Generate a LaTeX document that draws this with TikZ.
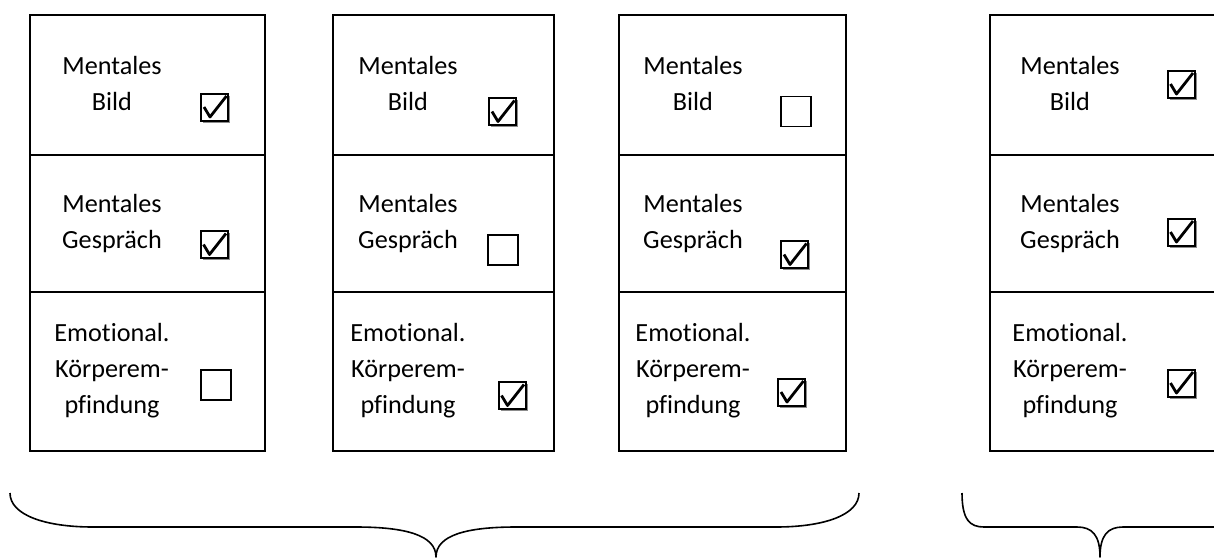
\documentclass[tikz,border=0pt]{standalone}
\usepackage{fontspec}
\setmainfont{Carlito}[Ligatures=NoCommon]
\usetikzlibrary{shadows}

\begin{document}
\begin{tikzpicture}[x=0.5pt,y=-0.5pt,
        frame/.style={line width=1pt},
        cell/.style={align=center,anchor=base,inner sep=0pt,font=\fontsize{13.1}{18}\selectfont},
        emptybox/.style={draw,line width=0.85pt,minimum size=15pt,inner sep=0pt},
        tickbox/.style={draw,line width=1pt,minimum size=13.5pt,inner sep=0pt,fill=white,
            drop shadow={shadow xshift=1.2pt,shadow yshift=-1.2pt,fill=black!45,opacity=1},
            path picture={\draw[shift={(path picture bounding box.center)},line width=1.4pt,line join=round]
                (-10.5,0) -- (-4.5,10) -- (12,-11);}},
        brace/.style={line width=0.8pt,line join=round}]

    \useasboundingbox (0,0) rectangle (1214,557);
    \clip (0,0) rectangle (1214,557);

    % columns
    \foreach \l/\r in {30/265, 333/554, 619/846, 990/1230} {
        \draw[frame] (\l,15) rectangle (\r,451);
        \draw[frame] (\l,155) -- (\r,155);
        \draw[frame] (\l,292) -- (\r,292);
    }

    % column 1
    \node[cell] (bild1) at (112,110) {Mentales\\Bild};
    \node[cell] (gespr1) at (112,248) {Mentales\\Gespräch};
    \node[cell] (koerp1) at (112,413) {Emotional.\\Körperem-\\pfindung};
    \node[tickbox] (box11) at (214.5,107) {};
    \node[tickbox] (box12) at (214,244.5) {};
    \node[emptybox] (box13) at (216,385) {};

    % column 2
    \node[cell] (bild2) at (408,110) {Mentales\\Bild};
    \node[cell] (gespr2) at (408,248) {Mentales\\Gespräch};
    \node[cell] (koerp2) at (408,413) {Emotional.\\Körperem-\\pfindung};
    \node[tickbox] (box21) at (502.5,111.5) {};
    \node[emptybox] (box22) at (503,250) {};
    \node[tickbox] (box23) at (512,395.5) {};

    % column 3
    \node[cell] (bild3) at (693,110) {Mentales\\Bild};
    \node[cell] (gespr3) at (693,248) {Mentales\\Gespräch};
    \node[cell] (koerp3) at (693,413) {Emotional.\\Körperem-\\pfindung};
    \node[emptybox] (box31) at (796,111.5) {};
    \node[tickbox] (box32) at (794.5,254.5) {};
    \node[tickbox] (box33) at (791.5,392) {};

    % column 4
    \node[cell] (bild4) at (1070,110) {Mentales\\Bild};
    \node[cell] (gespr4) at (1070,248) {Mentales\\Gespräch};
    \node[cell] (koerp4) at (1070,413) {Emotional.\\Körperem-\\pfindung};
    \node[tickbox] (box41) at (1181,84) {};
    \node[tickbox] (box42) at (1181,232) {};
    \node[tickbox] (box43) at (1181,383) {};

    % braces
    \draw[brace] (10,493) .. controls (10,515) and (45,527) .. (93,527) -- (356,527)
        .. controls (405,527) and (436,535) .. (436,557)
        .. controls (436,535) and (467,527) .. (516,527) -- (776,527)
        .. controls (824,527) and (859,515) .. (859,493);
    \draw[brace] (962,493) .. controls (962,520) and (970,527) .. (984,527) -- (1077,527)
        .. controls (1092,527) and (1100,535) .. (1100,557)
        .. controls (1100,535) and (1108,527) .. (1123,527) -- (1216,527)
        .. controls (1230,527) and (1238,520) .. (1238,493);

\end{tikzpicture}
\end{document}
